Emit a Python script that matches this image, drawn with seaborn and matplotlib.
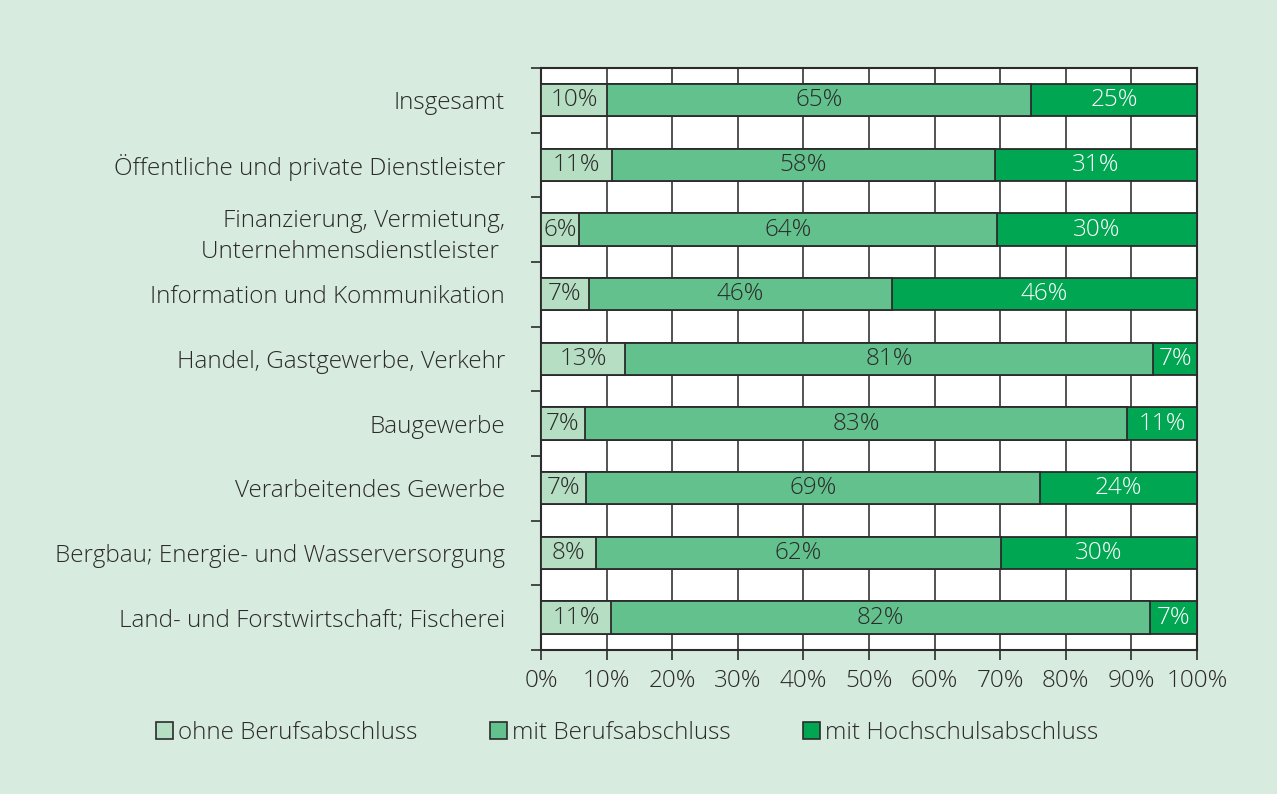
import numpy as np
import pandas as pd
import seaborn as sns
import matplotlib.pyplot as plt
from matplotlib.patches import Patch

# categories, top to bottom
branchen = [
    "Insgesamt",
    "Öffentliche und private Dienstleister",
    "Finanzierung, Vermietung,\nUnternehmensdienstleister ",
    "Information und Kommunikation",
    "Handel, Gastgewerbe, Verkehr",
    "Baugewerbe",
    "Verarbeitendes Gewerbe",
    "Bergbau; Energie- und Wasserversorgung",
    "Land- und Forstwirtschaft; Fischerei",
]

# shares in percent
ohne = [10.1, 10.8, 5.8, 7.3, 12.8, 6.7, 6.9, 8.4, 10.7]
mit_beruf = [64.6, 58.4, 63.7, 46.2, 80.5, 82.6, 69.2, 61.7, 82.1]
mit_hochschule = [25.3, 30.8, 30.5, 46.5, 6.7, 10.7, 23.9, 29.9, 7.2]

# printed labels
lab_ohne = ["10%", "11%", "6%", "7%", "13%", "7%", "7%", "8%", "11%"]
lab_beruf = ["65%", "58%", "64%", "46%", "81%", "83%", "69%", "62%", "82%"]
lab_hoch = ["25%", "31%", "30%", "46%", "7%", "11%", "24%", "30%", "7%"]

serien = ["ohne Berufsabschluss", "mit Berufsabschluss", "mit Hochschulsabschluss"]
farben = ["#b5dec3", "#63c18d", "#00a651"]
textfarben = ["#2b2b2b", "#2b2b2b", "white"]

bg = "#d8ebdf"
dark = "#2b2b2b"

sns.set_theme(style="white")
plt.rcParams["font.family"] = ["Open Sans", "DejaVu Sans"]
plt.rcParams["font.weight"] = "light"
plt.rcParams["text.color"] = dark
plt.rcParams["xtick.color"] = dark
plt.rcParams["ytick.color"] = dark

df = pd.DataFrame({
    "branche": branchen,
    "ohne": ohne,
    "beruf": mit_beruf,
    "hoch": mit_hochschule,
})
df["c1"] = df["ohne"]
df["c2"] = df["ohne"] + df["beruf"]
df["c3"] = df["c2"] + df["hoch"]

fig = plt.figure(figsize=(12.77, 7.94), dpi=100, facecolor=bg)
ax = fig.add_axes([0.4237, 0.1814, 0.5137, 0.733])
ax.set_facecolor("white")

# stacked via overlapping cumulative bars, widest first
for col, farbe in zip(["c3", "c2", "c1"], farben[::-1]):
    sns.barplot(data=df, x=col, y="branche", orient="h", color=farbe,
                width=0.5, edgecolor=dark, linewidth=1.3, saturation=1,
                ax=ax, zorder=3)

# segment labels
fs = 17.5
for i in range(len(branchen)):
    starts = [0, df["c1"][i], df["c2"][i]]
    werte = [ohne[i], mit_beruf[i], mit_hochschule[i]]
    labs = [lab_ohne[i], lab_beruf[i], lab_hoch[i]]
    for s, w, l, tc in zip(starts, werte, labs, textfarben):
        ax.text(s + w / 2, i, l, ha="center", va="center", fontsize=fs,
                color=tc, zorder=5)

ax.set_xlim(0, 100)
ax.set_ylim(len(branchen) - 0.5, -0.5)
ax.set_xticks(np.arange(0, 101, 10))
ax.set_xticklabels([f"{v}%" for v in range(0, 101, 10)], fontsize=fs)
ax.set_yticks(range(len(branchen)))
ax.set_yticklabels(branchen, fontsize=fs, multialignment="right", linespacing=1.4)
ax.set_yticks(np.arange(-0.5, len(branchen), 1), minor=True)
ax.tick_params(axis="y", which="major", length=0, pad=26)
ax.tick_params(axis="y", which="minor", length=7, width=1.2, direction="out", left=True)
ax.tick_params(axis="x", length=7, width=1.2, direction="out", bottom=True, pad=7)
ax.xaxis.grid(True, color="#444444", linewidth=1.3, zorder=0)
ax.set_axisbelow(True)
ax.set_xlabel("")
ax.set_ylabel("")
for sp in ax.spines.values():
    sp.set_visible(True)
    sp.set_color(dark)
    sp.set_linewidth(1.5)

handles = [Patch(facecolor=f, edgecolor=dark, linewidth=1.2, label=s)
           for f, s in zip(farben, serien)]
fig.legend(handles=handles, loc="center", bbox_to_anchor=(0.491, 0.077), ncol=3,
           frameon=False, fontsize=fs, handlelength=0.7, handleheight=0.7,
           handletextpad=0.2, columnspacing=3.0)

fig.savefig("out.png", dpi=100, facecolor=bg)
